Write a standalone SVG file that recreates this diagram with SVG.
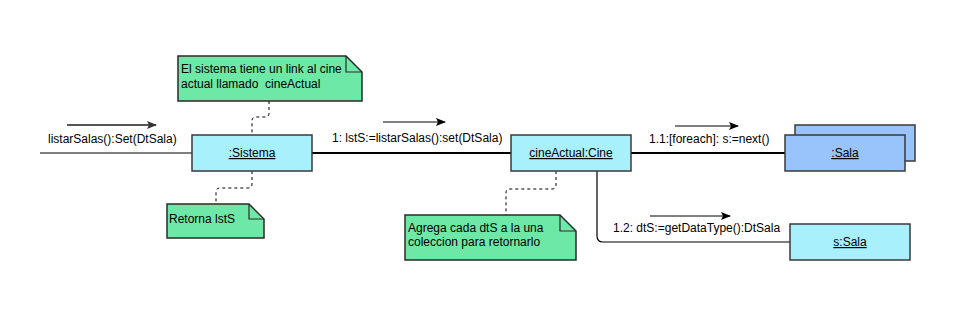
<svg xmlns="http://www.w3.org/2000/svg" width="960" height="325" viewBox="0 0 960 325">
  <defs>
    <style>
      text { font-family: "Liberation Sans", Arial, sans-serif; font-size: 12px; fill: #000; }
      .obj { fill: #a9f0fd; stroke: #3a3a3a; stroke-width: 1.5; }
      .multi { fill: #99c3fb; stroke: #3a3a3a; stroke-width: 1.5; }
      .note { fill: #6ee8a6; stroke: #2a2a2a; stroke-width: 1.5; }
      .fold { fill: none; stroke: #2a2a2a; stroke-width: 1.2; }
      .link { fill: none; stroke: #000; stroke-width: 2; }
      .thin { fill: none; stroke: #000; stroke-width: 1.2; }
      .anchor { fill: none; stroke: #000; stroke-width: 1; stroke-dasharray: 3 3; }
      .msg { stroke: #000; stroke-width: 1; marker-end: url(#head); }
      .msg-in { stroke: #555; stroke-width: 2; marker-end: url(#head2); }
      .u { text-decoration: underline; }
    </style>
    <marker id="head" viewBox="0 0 10 10" refX="9" refY="5" markerWidth="10" markerHeight="10" markerUnits="userSpaceOnUse" orient="auto">
      <path d="M0,1 L10,5 L0,9 L2,5 Z" fill="#000"/>
    </marker>
    <marker id="head2" viewBox="0 0 10 10" refX="9" refY="5" markerWidth="10" markerHeight="10" markerUnits="userSpaceOnUse" orient="auto">
      <path d="M0,1 L10,5 L0,9 L2,5 Z" fill="#333"/>
    </marker>
  </defs>

  <g id="connectors">
    <!-- incoming call -->
    <line x1="40" y1="153" x2="192" y2="153" class="thin"/>
    <line x1="67" y1="125" x2="156" y2="125" class="msg-in"/>
    <text x="48" y="143">listarSalas():Set(DtSala)</text>

    <!-- Sistema to cineActual -->
    <line x1="312" y1="153" x2="511" y2="153" class="link"/>
    <line x1="383" y1="122" x2="445" y2="122" class="msg"/>
    <text x="332" y="142">1: lstS:=listarSalas():set(DtSala)</text>

    <!-- cineActual to :Sala (multi) -->
    <line x1="631" y1="153" x2="785" y2="153" class="link"/>
    <line x1="675" y1="126" x2="738" y2="126" class="msg"/>
    <text x="649" y="143">1.1:[foreach]: s:=next()</text>

    <!-- cineActual to s:Sala -->
    <path d="M597,171 V236 Q597,242 603,242 H790" class="thin"/>
    <line x1="650" y1="216" x2="730" y2="216" class="msg"/>
    <text x="613" y="232">1.2: dtS:=getDataType():DtSala</text>

    <!-- note anchors -->
    <path d="M269,101 V113 Q269,117 265,117 H256 Q252,117 252,121 V135" class="anchor"/>
    <path d="M252,171 V184 Q252,188 248,188 H220 Q216,188 216,192 V204" class="anchor"/>
    <path d="M556,171 V185 Q556,189 552,189 H510 Q506,189 506,193 V215" class="anchor"/>
  </g>

  <g id="sistema">
    <rect x="192" y="135" width="120" height="36" class="obj"/>
    <text x="252" y="157" text-anchor="middle" class="u">:Sistema</text>
  </g>

  <g id="cineActual">
    <rect x="511" y="135" width="120" height="36" class="obj"/>
    <text x="571" y="157" text-anchor="middle" class="u">cineActual:Cine</text>
  </g>

  <g id="salas">
    <rect x="795" y="125" width="120" height="36" class="multi"/>
    <rect x="785" y="135" width="120" height="36" class="multi"/>
    <text x="845" y="157" text-anchor="middle" class="u">:Sala</text>
  </g>

  <g id="sSala">
    <rect x="790" y="224" width="120" height="36" class="obj"/>
    <text x="850" y="246" text-anchor="middle" class="u">s:Sala</text>
  </g>

  <g id="note-link">
    <path d="M178,56 H346 L362,72 V101 H178 Z" class="note"/>
    <path d="M346,56 V72 H362" class="fold"/>
    <text x="181" y="73">El sistema tiene un link al cine</text>
    <text x="181" y="88" xml:space="preserve">actual llamado  cineActual</text>
  </g>

  <g id="note-return">
    <path d="M167,204 H249 L264,219 V238 H167 Z" class="note"/>
    <path d="M249,204 V219 H264" class="fold"/>
    <text x="169" y="223">Retorna lstS</text>
  </g>

  <g id="note-collect">
    <path d="M405,215 H560 L576,231 V260 H405 Z" class="note"/>
    <path d="M560,215 V231 H576" class="fold"/>
    <text x="408" y="232">Agrega cada dtS a la una</text>
    <text x="408" y="246">coleccion para retornarlo</text>
  </g>
</svg>
